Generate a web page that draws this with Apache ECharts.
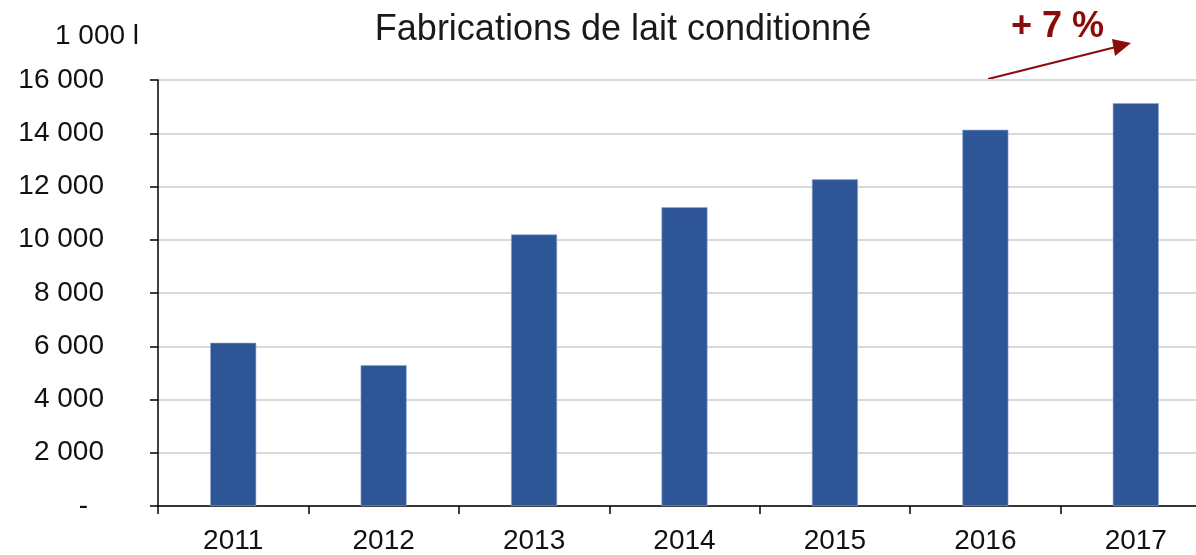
<!DOCTYPE html>
<html>
<head>
<meta charset="utf-8">
<script src="https://cdn.jsdelivr.net/npm/echarts@6/dist/echarts.min.js"></script>
<style>
  html, body { margin: 0; padding: 0; background: #fff; overflow: hidden; }
  #chart { width: 1211px; height: 555px; }
</style>
</head>
<body>
<div id="chart"></div>
<script>
const years = ['2011', '2012', '2013', '2014', '2015', '2016', '2017'];
const volumes = [6130, 5290, 10200, 11220, 12270, 14130, 15130];
const yTicks = { min: 0, max: 16000, step: 2000 };

const font = '"Liberation Sans", Arial, sans-serif';
const chart = echarts.init(document.getElementById('chart'));

function fmt(v) {
  if (v === 0) return '{dash|-}';
  return String(v).replace(/\B(?=(\d{3})+(?!\d))/g, ' ');
}

chart.setOption({
  animation: false,
  title: {
    text: 'Fabrications de lait conditionné',
    left: 618,
    textAlign: 'center',
    top: 7,
    textStyle: { fontFamily: font, fontSize: 36, fontWeight: 'normal', color: '#1a1a1a' }
  },
  grid: { left: 158, right: 0, top: 80, bottom: 48 },
  xAxis: {
    type: 'category',
    data: years,
    axisLine: { lineStyle: { color: '#000', width: 1.5 } },
    axisTick: { show: true, length: 8, lineStyle: { color: '#000', width: 1.5 } },
    axisLabel: { fontFamily: font, fontSize: 28, color: '#111', margin: 21 }
  },
  yAxis: {
    type: 'value',
    min: yTicks.min,
    max: yTicks.max,
    interval: yTicks.step,
    axisLine: { show: true, lineStyle: { color: '#000', width: 1.5 } },
    axisTick: { show: true, length: 8, lineStyle: { color: '#000', width: 1.5 } },
    axisLabel: {
      fontFamily: font, fontSize: 28, color: '#111', margin: 54,
      formatter: fmt,
      rich: { dash: { fontFamily: font, fontSize: 28, color: '#111', padding: [0, 16, 0, 0] } }
    },
    splitLine: { lineStyle: { color: '#d9d9d9', width: 2 } }
  },
  series: [{
    type: 'bar',
    data: volumes,
    barWidth: 46,
    itemStyle: { color: '#2e5596', borderColor: '#8fa9d6', borderWidth: 0.6 }
  }],
  graphic: [
    {
      type: 'text', left: 55, top: 22,
      style: { text: '1 000 l', fontFamily: font, fontSize: 28, fill: '#111' }
    },
    {
      type: 'text', left: 1011, top: 9,
      style: { text: '+ 7 %', fontFamily: font, fontSize: 36, fontWeight: 'bold', fill: '#8b0a0a' }
    },
    {
      type: 'line',
      shape: { x1: 988, y1: 79, x2: 1116, y2: 47 },
      style: { stroke: '#8b0a0a', lineWidth: 2 }
    },
    {
      type: 'polygon',
      shape: { points: [[1131, 43], [1112, 39], [1115, 56]] },
      style: { fill: '#8b0a0a' }
    }
  ]
});
window.addEventListener('resize', function () { chart.resize(); });
</script>
</body>
</html>
